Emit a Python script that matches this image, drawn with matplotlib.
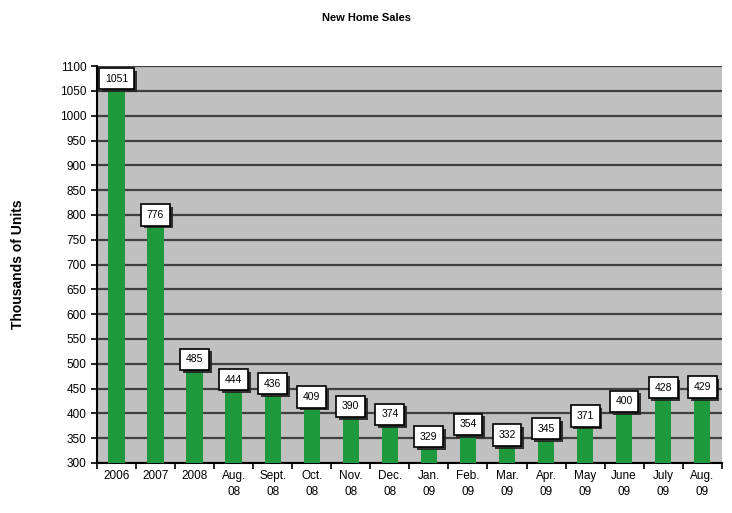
import matplotlib.pyplot as plt
import matplotlib.patheffects as pe
import numpy as np

plt.rcParams['font.family'] = 'Liberation Sans'

categories = ['2006', '2007', '2008', 'Aug.\n08', 'Sept.\n08', 'Oct.\n08', 'Nov.\n08',
              'Dec.\n08', 'Jan.\n09', 'Feb.\n09', 'Mar.\n09', 'Apr.\n09', 'May\n09',
              'June\n09', 'July\n09', 'Aug.\n09']
sales = [1051, 776, 485, 444, 436, 409, 390, 374, 329, 354, 332, 345, 371, 400, 428, 429]
yticks = np.arange(300, 1101, 50)

fig = plt.figure(figsize=(7.32, 5.13), dpi=100)
ax = fig.add_axes([0.1325, 0.0975, 0.8535, 0.7735])
ax.set_facecolor('#c0c0c0')

x = np.arange(len(categories))
ax.bar(x, [v - 300 for v in sales], bottom=300, width=0.42, color='#1e9a3c',
       zorder=3)

for xi, v in zip(x, sales):
    t = ax.annotate(str(v), (xi, v), xytext=(0, 5), textcoords='offset points',
                    ha='center', va='bottom', fontsize=7.5, zorder=5, clip_on=False,
                    bbox=dict(boxstyle='square,pad=0.55', fc='white', ec='black', lw=1.2))
    t.get_bbox_patch().set_path_effects([
        pe.SimplePatchShadow(offset=(2, -2), shadow_rgbFace='#222222', alpha=0.9),
        pe.Normal()])

ax.set_xlim(-0.5, len(categories) - 0.5)
ax.set_ylim(300, 1100)
ax.set_yticks(yticks)
ax.yaxis.grid(True, color='#404040', lw=1.6, zorder=1)
ax.set_axisbelow(True)

ax.set_xticks(x)
ax.set_xticklabels(categories, fontsize=8.5, linespacing=1.5)
ax.set_xticks(np.arange(-0.5, len(categories)), minor=True)
ax.tick_params(axis='x', which='major', length=0, pad=5)
ax.tick_params(axis='x', which='minor', length=4, width=1.2)
ax.tick_params(axis='y', labelsize=8.5, length=4, width=1.2)

for side in ['top', 'right']:
    ax.spines[side].set_visible(False)
ax.spines['left'].set_linewidth(1.5)
ax.spines['bottom'].set_linewidth(1.5)

ax.set_ylabel('Thousands of Units', fontsize=10, fontweight='bold', labelpad=25)
fig.suptitle('New Home Sales', fontsize=8, fontweight='bold', y=0.975)

plt.savefig('out.png', dpi=100)
